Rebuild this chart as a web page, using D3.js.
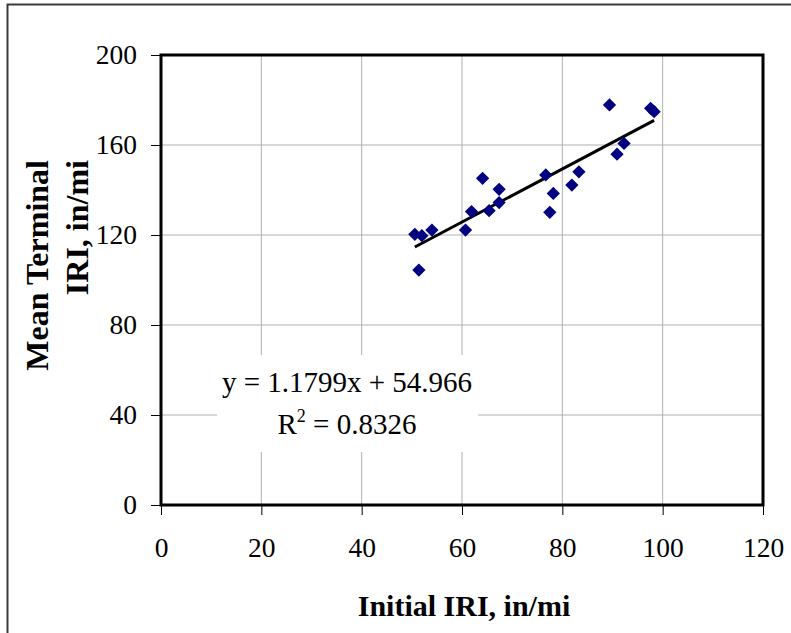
<!DOCTYPE html>
<html>
<head>
<meta charset="utf-8">
<script src="https://cdn.jsdelivr.net/npm/d3@7"></script>
<style>
  html, body { margin: 0; padding: 0; background: #fff; }
  svg { display: block; }
  text { font-family: "Liberation Serif", "Times New Roman", serif; fill: #000; }
</style>
</head>
<body>
<svg id="chart" width="791" height="633"></svg>
<script>
// Initial IRI (in/mi) and mean terminal IRI (in/mi) for each section
const initialIRI = [50.6, 52.0, 54.0, 51.4, 60.7, 61.9, 64.1, 65.4, 67.4, 67.4,
                    76.7, 78.2, 77.5, 81.9, 83.3, 89.4, 90.9, 92.3, 97.6, 98.3];
const terminalIRI = [120.3, 119.7, 122.2, 104.4, 122.2, 130.4, 145.2, 130.8, 140.3, 134.4,
                     146.7, 138.5, 130.1, 142.2, 148.1, 177.8, 155.9, 160.7, 176.3, 174.8];

// Linear trend fitted to the points
const slope = 1.1799;
const intercept = 54.966;
const rSquared = "0.8326";

const xTicks = [0, 20, 40, 60, 80, 100, 120];
const yTicks = [0, 40, 80, 120, 160, 200];

const svg = d3.select("#chart");
const plot = { left: 161, top: 55, right: 763, bottom: 505 };

const x = d3.scaleLinear().domain([0, 120]).range([plot.left, plot.right]);
const y = d3.scaleLinear().domain([0, 200]).range([plot.bottom, plot.top]);

// outer frame (only its top and left edges fall inside the canvas)
svg.append("path")
  .attr("d", "M7.5,640 L7.5,4.5 L800,4.5")
  .attr("fill", "none").attr("stroke", "#3a3a3a").attr("stroke-width", 2);

// gridlines
svg.append("g").selectAll("line").data(xTicks.slice(1, -1)).join("line")
  .attr("x1", d => x(d)).attr("x2", d => x(d))
  .attr("y1", plot.top).attr("y2", plot.bottom)
  .attr("stroke", "#b0b0b0").attr("stroke-width", 1);
svg.append("g").selectAll("line").data(yTicks.slice(1, -1)).join("line")
  .attr("x1", plot.left).attr("x2", plot.right)
  .attr("y1", d => y(d)).attr("y2", d => y(d))
  .attr("stroke", "#b0b0b0").attr("stroke-width", 1);

// axes with outward ticks
const xAxis = svg.append("g").attr("transform", `translate(0,${plot.bottom})`)
  .call(d3.axisBottom(x).tickValues(xTicks).tickSize(10).tickPadding(22).tickFormat(d3.format("d")));
const yAxis = svg.append("g").attr("transform", `translate(${plot.left},0)`)
  .call(d3.axisLeft(y).tickValues(yTicks).tickSize(10).tickPadding(14).tickFormat(d3.format("d")));
[xAxis, yAxis].forEach(g => {
  g.select(".domain").remove();
  g.selectAll(".tick line").attr("stroke", "#000").attr("stroke-width", 1);
  g.selectAll(".tick text")
    .style("font-family", '"Liberation Serif", "Times New Roman", serif')
    .style("font-size", "27.5px").attr("fill", "#000");
});

// plot border
svg.append("rect")
  .attr("x", plot.left).attr("y", plot.top)
  .attr("width", plot.right - plot.left).attr("height", plot.bottom - plot.top)
  .attr("fill", "none").attr("stroke", "#000").attr("stroke-width", 3);

// trend line across the observed range
const xMin = d3.min(initialIRI), xMax = d3.max(initialIRI);
svg.append("line")
  .attr("x1", x(xMin)).attr("y1", y(slope * xMin + intercept))
  .attr("x2", x(xMax)).attr("y2", y(slope * xMax + intercept))
  .attr("stroke", "#000").attr("stroke-width", 3);

// data points as diamonds
const diamond = d3.symbol().type(d3.symbolSquare).size(88);
svg.append("g").selectAll("path").data(initialIRI.map((v, i) => [v, terminalIRI[i]])).join("path")
  .attr("d", diamond)
  .attr("transform", d => `translate(${x(d[0])},${y(d[1])}) rotate(45)`)
  .attr("fill", "#000080");

// regression label on a white background
const eqX = 347;
svg.append("rect").attr("x", 217).attr("y", 355).attr("width", 261).attr("height", 97).attr("fill", "#fff");
svg.append("text").attr("x", eqX).attr("y", 392).attr("text-anchor", "middle")
  .style("font-size", "29px")
  .text(`y = ${slope}x + ${intercept}`);
const r2 = svg.append("text").attr("x", eqX).attr("y", 434).attr("text-anchor", "middle")
  .style("font-size", "29px");
r2.append("tspan").text("R");
r2.append("tspan").attr("dy", -12).style("font-size", "18px").text("2");
r2.append("tspan").attr("dy", 12).text(" = " + rSquared);

// axis titles
svg.append("text").attr("x", 464).attr("y", 616).attr("text-anchor", "middle")
  .style("font-size", "30px").style("font-weight", "bold")
  .text("Initial IRI, in/mi");
const yTitle = svg.append("text")
  .attr("transform", "translate(48,160) rotate(-90)")
  .attr("text-anchor", "end")
  .style("font-size", "32px").style("font-weight", "bold");
yTitle.append("tspan").attr("x", 0).attr("y", 0).text("Mean Terminal");
yTitle.append("tspan").attr("x", 0).attr("y", 40).text("IRI, in/mi");
</script>
</body>
</html>
